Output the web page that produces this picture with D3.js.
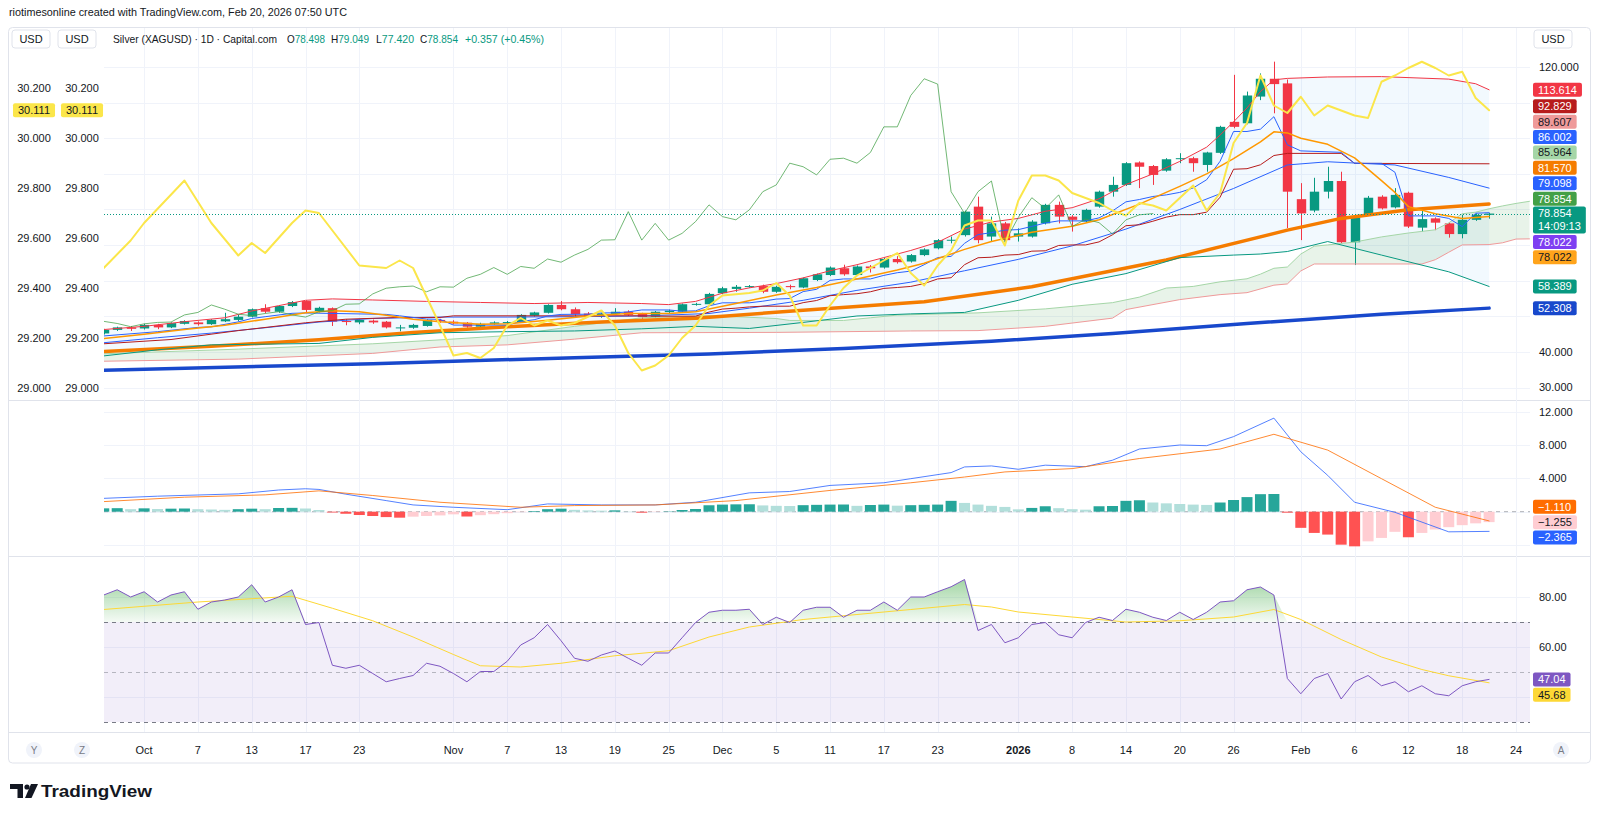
<!DOCTYPE html>
<html>
<head>
<meta charset="utf-8">
<title>Silver (XAGUSD) 1D</title>
<script src="https://cdn.jsdelivr.net/npm/d3@7"></script>
<style>
  html, body { margin: 0; padding: 0; background: #fff; }
  svg { display: block; font-family: 'Liberation Sans', Arial, sans-serif; }
</style>
</head>
<body>
<svg id="chart" width="1600" height="817"></svg>
<script>
// ---- Data ----

// Trading days shown (weekends and Dec 25 / Jan 1 have no bar).
const dates = [
  '2025-09-26', '2025-09-29', '2025-09-30',
  '2025-10-01', '2025-10-02', '2025-10-03', '2025-10-06', '2025-10-07', '2025-10-08', '2025-10-09', '2025-10-10',
  '2025-10-13', '2025-10-14', '2025-10-15', '2025-10-16', '2025-10-17', '2025-10-20', '2025-10-21', '2025-10-22',
  '2025-10-23', '2025-10-24', '2025-10-27', '2025-10-28', '2025-10-29', '2025-10-30', '2025-10-31',
  '2025-11-03', '2025-11-04', '2025-11-05', '2025-11-06', '2025-11-07', '2025-11-10', '2025-11-11', '2025-11-12',
  '2025-11-13', '2025-11-14', '2025-11-17', '2025-11-18', '2025-11-19', '2025-11-20', '2025-11-21', '2025-11-24',
  '2025-11-25', '2025-11-26', '2025-11-27', '2025-11-28',
  '2025-12-01', '2025-12-02', '2025-12-03', '2025-12-04', '2025-12-05', '2025-12-08', '2025-12-09', '2025-12-10',
  '2025-12-11', '2025-12-12', '2025-12-15', '2025-12-16', '2025-12-17', '2025-12-18', '2025-12-19', '2025-12-22',
  '2025-12-23', '2025-12-24', '2025-12-26', '2025-12-29', '2025-12-30', '2025-12-31',
  '2026-01-02', '2026-01-05', '2026-01-06', '2026-01-07', '2026-01-08', '2026-01-09', '2026-01-12', '2026-01-13',
  '2026-01-14', '2026-01-15', '2026-01-16', '2026-01-19', '2026-01-20', '2026-01-21', '2026-01-22', '2026-01-23',
  '2026-01-26', '2026-01-27', '2026-01-28', '2026-01-29', '2026-01-30',
  '2026-02-02', '2026-02-03', '2026-02-04', '2026-02-05', '2026-02-06', '2026-02-09', '2026-02-10', '2026-02-11',
  '2026-02-12', '2026-02-13', '2026-02-16', '2026-02-17', '2026-02-18', '2026-02-19', '2026-02-20'
];
const futureDates = ['2026-02-23', '2026-02-24', '2026-02-25'];

const open = [
  45.2, 46.2, 46.9, 46.6, 47.6, 46.9, 47.9, 48.3, 47.8, 48.6,
  49.0, 49.9, 52.3, 51.3, 52.9, 54.3, 51.5, 52.3, 48.7, 48.3,
  48.8, 48.5, 46.8, 46.8, 47.3, 49.0, 48.5, 48.2, 47.1, 47.9,
  48.1, 48.4, 50.2, 51.0, 53.2, 52.0, 50.8, 50.2, 50.7, 51.3,
  50.7, 49.9, 51.2, 51.3, 53.4, 53.4, 56.5, 57.7, 58.4, 58.5,
  56.9, 58.5, 58.1, 60.2, 61.6, 63.5, 61.6, 64.0, 63.7, 66.1,
  65.4, 67.2, 69.1, 71.4, 72.8, 80.8, 72.4, 76.1, 72.4, 72.4,
  76.1, 81.3, 78.0, 76.6, 80.8, 85.0, 86.9, 93.2, 92.2, 90.9,
  94.2, 94.4, 92.5, 95.9, 104.6, 104.2, 111.7, 116.7, 115.4, 82.9,
  79.7, 85.0, 88.0, 70.8, 78.7, 83.6, 80.6, 84.7, 74.9, 77.5,
  76.1, 73.1, 77.1, 78.498
];
const high = [
  46.5, 47.1, 47.3, 47.9, 47.9, 48.3, 48.9, 48.6, 49.2, 51.0,
  50.4, 52.2, 53.4, 53.1, 54.3, 54.5, 52.7, 52.5, 49.2, 49.2,
  49.1, 48.7, 47.6, 47.9, 49.2, 49.3, 48.9, 48.4, 48.2, 48.6,
  48.7, 50.6, 51.3, 53.4, 54.3, 52.5, 51.2, 51.0, 52.3, 51.7,
  51.0, 51.5, 51.9, 53.6, 53.8, 56.6, 58.3, 58.8, 58.8, 58.9,
  58.6, 58.9, 60.9, 62.0, 64.0, 64.5, 64.3, 64.4, 66.4, 66.9,
  67.5, 69.1, 71.7, 72.4, 79.7, 83.6, 78.0, 76.5, 74.7, 77.0,
  81.6, 82.2, 78.4, 80.2, 85.3, 89.2, 93.3, 93.5, 92.5, 94.4,
  95.8, 94.8, 96.2, 103.5, 117.8, 113.1, 118.2, 121.5, 116.5, 87.4,
  88.9, 92.0, 90.6, 78.3, 83.8, 84.0, 86.0, 85.0, 79.9, 77.8,
  76.4, 78.5, 78.9, 79.049
];
const low = [
  44.9, 45.9, 45.9, 46.3, 46.4, 46.7, 47.7, 47.4, 47.6, 48.4,
  48.6, 49.7, 50.9, 51.0, 52.6, 51.0, 51.1, 47.3, 47.5, 47.8,
  47.9, 46.6, 45.8, 46.5, 47.1, 48.2, 47.7, 46.8, 46.9, 47.6,
  47.7, 48.2, 49.9, 50.8, 51.7, 49.8, 49.9, 49.6, 50.4, 50.1,
  49.3, 49.6, 50.8, 51.1, 53.0, 53.2, 56.2, 56.9, 58.0, 56.5,
  56.6, 57.6, 57.9, 59.9, 61.3, 61.4, 61.3, 62.3, 63.4, 64.8,
  65.1, 66.9, 68.8, 70.5, 72.4, 70.5, 71.0, 70.0, 71.0, 72.1,
  75.8, 76.1, 73.8, 76.3, 80.5, 83.6, 86.6, 86.0, 86.9, 90.6,
  93.0, 90.6, 90.6, 95.6, 102.8, 103.9, 110.7, 107.0, 74.8, 71.4,
  79.2, 83.1, 70.6, 64.4, 78.3, 80.0, 80.3, 74.8, 73.8, 74.2,
  72.1, 71.9, 76.8, 77.42
];
const close = [
  46.2, 46.9, 46.5, 47.6, 46.9, 48.1, 48.7, 47.8, 49.0, 49.2,
  49.9, 52.0, 51.3, 52.9, 54.0, 51.8, 52.4, 48.5, 48.4, 49.0,
  48.3, 46.9, 46.9, 47.6, 49.0, 48.6, 48.0, 47.1, 47.9, 48.3,
  48.4, 50.4, 51.1, 53.2, 52.0, 50.6, 50.2, 50.8, 51.3, 50.4,
  49.8, 51.3, 51.6, 53.4, 53.5, 56.3, 57.9, 58.3, 58.5, 56.9,
  58.3, 58.2, 60.7, 61.8, 63.7, 61.8, 64.0, 63.5, 66.1, 65.2,
  67.2, 68.8, 71.4, 71.5, 79.4, 71.4, 76.1, 71.4, 73.3, 76.6,
  81.3, 78.0, 77.1, 79.9, 85.0, 86.9, 93.0, 92.0, 89.7, 94.1,
  94.4, 93.0, 96.0, 103.2, 103.2, 112.0, 116.7, 115.2, 85.0, 78.9,
  85.0, 88.0, 70.8, 77.8, 83.3, 80.3, 84.1, 75.2, 77.3, 76.3,
  73.1, 77.1, 78.5, 78.854
];

// Overlay lines as [bar index, value] points.
const sma200 = [[0, 34.9], [20, 36.7], [35, 38.4], [45, 39.4], [55, 41.0], [66, 43.0], [75, 45.2], [85, 48.0], [95, 50.6], [103, 52.31]];
const ema50 = [[0, 40.1], [8, 41.6], [16, 43.4], [23, 45.5], [30, 47.1], [37, 48.4], [44, 49.5], [52, 51.7], [61, 54.1],
  [69, 58.3], [79, 65.8], [88, 74.2], [92, 77.5], [97, 79.9], [103, 81.57]];
const ma10 = [[0, 43.8], [3, 45.0], [6, 46.3], [9, 47.5], [12, 49.2], [15, 51.0], [17, 51.6], [19, 51.3], [21, 50.3],
  [23, 49.2], [25, 48.5], [28, 47.8], [30, 47.9], [33, 48.9], [36, 50.1], [39, 50.8], [42, 50.8], [44, 51.3], [47, 53.6],
  [50, 56.0], [53, 58.1], [56, 60.5], [59, 63.0], [61, 64.9], [64, 68.8], [66, 71.0], [69, 73.6], [72, 75.3], [74, 77.1],
  [77, 81.5], [80, 86.5], [82, 90.0], [84, 94.3], [86, 99.0], [87, 101.8], [88, 101.5], [89, 100.0], [91, 98.3],
  [93, 94.5], [95, 88.1], [96, 84.8], [97, 80.8], [99, 78.8], [101, 77.5], [103, 78.02]];

const bbUpper = [[0, 46.3], [3, 47.2], [6, 48.5], [9, 49.6], [11, 51.5], [13, 53.0], [15, 54.5], [17, 54.9], [20, 54.6],
  [24, 54.2], [28, 53.9], [32, 53.6], [36, 53.9], [40, 53.6], [42, 53.3], [44, 54.2], [46, 56.5], [48, 58.0], [50, 59.2],
  [52, 60.8], [54, 62.8], [56, 64.5], [58, 66.5], [60, 68.5], [62, 70.8], [64, 74.5], [66, 76.5], [68, 77.5], [70, 79.5],
  [72, 80.5], [74, 83.0], [76, 87.0], [78, 90.0], [80, 93.5], [82, 97.5], [83, 100.9], [84, 104.6], [85, 108.5],
  [86, 113.1], [87, 116.4], [88, 116.8], [91, 117.2], [95, 117.3], [100, 116.6], [102, 115.3], [103, 113.61]];
const bbBasis = [[0, 42.6], [4, 44.0], [8, 45.3], [12, 46.8], [16, 48.4], [20, 49.4], [25, 49.8], [30, 49.8], [35, 49.9],
  [40, 50.1], [45, 50.8], [48, 52.3], [52, 54.5], [56, 57.3], [60, 59.6], [64, 62.8], [68, 66.0], [72, 69.8], [76, 74.5],
  [80, 80.0], [84, 85.9], [88, 92.5], [91, 93.4], [96, 92.5], [100, 89.0], [103, 86.0]];
const bbLower = [[0, 38.9], [4, 40.6], [8, 42.0], [12, 42.2], [16, 42.4], [20, 44.1], [25, 45.4], [30, 45.7], [35, 45.9],
  [40, 46.5], [44, 47.2], [48, 46.6], [52, 48.3], [56, 50.1], [60, 50.7], [64, 51.1], [68, 54.5], [72, 59.0], [76, 62.0],
  [80, 66.5], [84, 67.2], [86, 67.5], [88, 68.2], [91, 71.0], [95, 67.2], [100, 62.5], [103, 58.39]];

// Ichimoku
const tenkan = [[0, 44.5], [4, 45.7], [7, 46.9], [8, 47.05], [10, 48.45], [11, 49.4], [12, 49.9], [14, 50.85], [15, 50.95],
  [21, 50.55], [22, 50.15], [24, 49.25], [25, 49.15], [26, 47.55], [30, 47.55], [31, 48.55], [32, 49.05], [33, 50.1],
  [34, 50.55], [36, 50.6], [37, 50.95], [38, 51.0], [39, 51.25], [40, 51.8], [42, 51.8], [43, 51.45], [44, 51.55],
  [45, 52.95], [46, 53.8], [48, 53.8], [49, 54.25], [50, 54.85], [51, 55.0], [52, 56.95], [53, 57.6], [54, 60.1],
  [55, 60.5], [57, 60.5], [58, 61.5], [59, 62.25], [60, 62.7], [61, 64.5], [62, 66.5], [63, 66.85], [64, 70.5],
  [65, 72.95], [66, 73.5], [67, 74.2], [68, 74.35], [69, 75.25], [70, 76.2], [71, 76.8], [73, 76.8], [74, 77.65],
  [75, 79.6], [76, 82.15], [77, 82.8], [78, 83.65], [79, 84.1], [80, 84.8], [81, 86.05], [82, 88.35], [83, 93.55],
  [84, 101.9], [85, 101.9], [86, 102.55], [87, 106.05], [88, 98.15], [89, 96.45], [92, 96.05], [93, 92.95], [95, 92.95],
  [96, 90.45], [97, 78.2], [99, 78.2], [100, 77.5], [101, 75.2], [102, 78.95], [103, 79.1]];
const kijun = [[0, 42.3], [5, 43.5], [10, 46.0], [15, 48.2], [18, 49.2], [22, 49.7], [25, 49.7], [26, 50.15], [40, 50.15],
  [41, 50.05], [44, 50.05], [45, 51.2], [46, 52.05], [47, 52.3], [48, 52.65], [49, 52.85], [51, 52.85], [52, 53.85],
  [53, 54.45], [54, 55.8], [55, 56.1], [56, 56.35], [57, 56.9], [58, 57.85], [59, 58.1], [60, 58.4], [61, 59.2],
  [62, 60.5], [63, 60.85], [64, 64.5], [65, 66.45], [66, 66.6], [67, 67.2], [68, 67.35], [69, 68.3], [70, 68.4],
  [71, 69.9], [72, 70.05], [73, 70.05], [74, 70.9], [75, 72.9], [76, 75.45], [77, 75.7], [78, 76.7], [79, 77.85],
  [80, 78.55], [81, 78.55], [82, 79.25], [83, 83.45], [84, 91.3], [85, 91.45], [86, 92.55], [87, 95.15], [88, 95.75],
  [92, 95.75], [93, 92.95], [103, 92.83]];
// Leading spans, indexed at their plotted (shifted) position.
const spanA = [[0, 39.5], [10, 40.8], [20, 42.3], [25, 43.4], [30, 44.6], [35, 47.2], [40, 49.6], [45, 50.2], [47, 49.9],
  [50, 49.4], [51, 48.85], [55, 48.85], [57, 49.6], [59, 50.35], [65, 50.98], [70, 52.1], [75, 53.85], [77, 55.4],
  [79, 57.95], [81, 58.4], [83, 59.7], [85, 60.55], [86, 61.85], [87, 63.5], [88, 63.85], [89, 67.5], [90, 69.7],
  [91, 70.05], [93, 70.85], [95, 72.3], [97, 73.4], [99, 74.3], [100, 76.25], [101, 78.8], [102, 79.25], [103, 80.2],
  [104, 81.0], [105, 81.7], [106, 82.3]];
const spanB = [[0, 37.4], [10, 38.0], [20, 39.6], [25, 41.4], [30, 42.0], [35, 43.6], [40, 45.4], [50, 45.5], [60, 45.9],
  [65, 46.0], [70, 47.2], [75, 49.5], [76, 51.9], [80, 54.7], [83, 56.1], [85, 56.65], [87, 58.75], [88, 59.1],
  [89, 62.75], [90, 64.7], [98, 64.7], [99, 65.9], [100, 68.0], [101, 70.05], [103, 70.15], [104, 70.65], [105, 71.7],
  [106, 71.75]];
const laggingShift = 25;

// Yellow comparison line on the left scale.
const compareLine = [[0, 29.48], [2, 29.59], [3, 29.66], [6, 29.83], [8, 29.66], [10, 29.53], [11, 29.58], [12, 29.54],
  [14, 29.66], [15, 29.71], [16, 29.70], [17, 29.63], [19, 29.49], [21, 29.48], [22, 29.51], [23, 29.48], [25, 29.25],
  [26, 29.13], [27, 29.14], [28, 29.12], [29, 29.16], [30, 29.25], [31, 29.28], [32, 29.25], [33, 29.27], [34, 29.25],
  [35, 29.26], [37, 29.31], [38, 29.25], [39, 29.14], [40, 29.07], [41, 29.09], [42, 29.13], [43, 29.20], [44, 29.25],
  [45, 29.33], [46, 29.37], [48, 29.38], [49, 29.39], [50, 29.42], [51, 29.37], [52, 29.25], [53, 29.25], [54, 29.33],
  [55, 29.40], [56, 29.45], [57, 29.48], [58, 29.51], [59, 29.54], [60, 29.46], [61, 29.41], [62, 29.49], [63, 29.55],
  [64, 29.65], [65, 29.67], [66, 29.67], [67, 29.57], [68, 29.75], [69, 29.85], [70, 29.85], [71, 29.83], [72, 29.78],
  [73, 29.76], [74, 29.74], [75, 29.71], [76, 29.69], [77, 29.74], [78, 29.73], [79, 29.71], [80, 29.76], [81, 29.81],
  [82, 29.71], [83, 29.78], [84, 29.98], [85, 30.06], [86, 30.25], [87, 30.13], [88, 30.10], [89, 30.165], [90, 30.09],
  [91, 30.13], [92, 30.11], [93, 30.09], [94, 30.08], [95, 30.225], [96, 30.25], [97, 30.28], [98, 30.305], [99, 30.28],
  [100, 30.25], [101, 30.265], [102, 30.16], [103, 30.111]];

// MACD pane
const macdLine = [[0, 1.6], [4, 1.86], [7, 2.0], [10, 2.14], [13, 2.6], [15, 2.75], [16, 2.67], [18, 2.1], [21, 1.33],
  [23, 0.81], [26, 0.53], [30, 0.24], [33, 0.93], [37, 0.81], [41, 0.81], [44, 1.13], [48, 2.26], [51, 2.42], [54, 3.15],
  [58, 3.47], [60, 3.96], [63, 4.69], [64, 5.37], [66, 5.49], [68, 5.09], [70, 5.58], [73, 5.4], [75, 6.18], [77, 7.52],
  [80, 8.0], [82, 7.92], [84, 9.01], [87, 11.23], [89, 7.19], [91, 4.36], [93, 1.13], [96, -0.08], [100, -2.42],
  [103, -2.365]];
const signalLine = [[0, 1.21], [6, 1.74], [12, 2.02], [16, 2.5], [20, 1.94], [25, 1.13], [31, 0.53], [35, 0.73], [41, 0.81],
  [47, 1.33], [54, 2.55], [60, 3.47], [64, 4.16], [67, 4.77], [72, 5.17], [77, 6.38], [83, 7.52], [87, 9.29], [91, 7.39],
  [95, 3.96], [99, 0.53], [103, -1.11]];
const macdHist = [
  0.40, 0.42, 0.30, 0.40, 0.32, 0.36, 0.38, 0.30, 0.26, 0.22,
  0.30, 0.36, 0.30, 0.44, 0.46, 0.38, 0.20, -0.10, -0.25, -0.40,
  -0.52, -0.65, -0.72, -0.60, -0.52, -0.45, -0.32, -0.58, -0.42, -0.30,
  -0.18, -0.06, 0.08, 0.30, 0.36, 0.22, 0.15, 0.12, 0.16, 0.04,
  -0.12, -0.04, 0.04, 0.20, 0.32, 0.77, 0.85, 0.88, 0.89, 0.75,
  0.70, 0.68, 0.78, 0.82, 0.85, 0.86, 0.70, 0.80, 0.85, 0.72,
  0.78, 0.82, 0.85, 1.30, 1.05, 0.85, 0.70, 0.57, 0.28, 0.45,
  0.65, 0.42, 0.30, 0.24, 0.65, 0.68, 1.30, 1.37, 1.10, 1.00,
  0.92, 0.85, 0.81, 1.10, 1.40, 1.75, 2.10, 2.12, -0.12, -1.94,
  -2.55, -2.75, -3.96, -4.16, -3.56, -3.15, -2.42, -3.07, -2.55, -2.14,
  -1.86, -1.62, -1.40, -1.255
];

// RSI pane
const rsi = [
  80.8, 82.9, 80.0, 82.1, 78.0, 80.8, 82.1, 75.1, 78.0, 78.8,
  80.0, 84.9, 78.0, 80.0, 82.9, 69.0, 69.8, 52.7, 51.5, 52.7,
  49.4, 46.1, 47.4, 48.6, 53.5, 52.3, 49.4, 46.1, 50.2, 50.2,
  54.3, 60.8, 63.7, 69.0, 62.5, 55.5, 54.3, 56.8, 58.4, 55.5,
  52.7, 57.6, 57.6, 63.7, 69.8, 73.9, 74.7, 74.7, 75.1, 69.0,
  71.9, 69.8, 74.7, 75.9, 75.9, 71.9, 74.7, 74.7, 78.0, 74.7,
  80.0, 80.0, 82.1, 84.1, 87.0, 66.6, 69.0, 61.7, 63.7, 69.0,
  69.8, 64.9, 63.7, 69.8, 71.9, 70.6, 75.1, 73.9, 71.9, 70.6,
  73.9, 71.0, 73.9, 78.0, 78.5, 82.9, 84.0, 80.8, 47.4, 41.3,
  47.4, 49.4, 39.2, 46.1, 48.6, 44.5, 46.1, 42.1, 44.5, 41.3,
  40.5, 44.5, 46.1, 47.04
];
const rsiMa = [[0, 75.0], [7, 78.0], [14, 80.3], [17, 75.5], [20, 70.5], [23, 64.0], [26, 57.0], [28, 52.5], [31, 52.0],
  [34, 53.5], [38, 56.5], [42, 58.5], [45, 64.0], [48, 68.0], [52, 71.0], [56, 73.0], [60, 75.0], [64, 77.0], [66, 76.0],
  [68, 74.0], [72, 72.0], [76, 70.0], [80, 70.5], [84, 72.0], [87, 75.0], [89, 71.0], [92, 63.0], [95, 56.0], [98, 51.0],
  [100, 48.5], [103, 45.68]];

// Axis ticks and labels
const priceTicks = [120, 110, 100, 90, 80, 70, 60, 50, 40, 30];
const leftTicks = [30.2, 30.0, 29.8, 29.6, 29.4, 29.2, 29.0];
const macdTicks = [12, 8, 4, 0, -4];
const rsiTicks = [80, 60, 40];
const timeLabels = [
  ['2025-10-01', 'Oct'], ['2025-10-07', '7'], ['2025-10-13', '13'], ['2025-10-17', '17'], ['2025-10-23', '23'],
  ['2025-11-03', 'Nov'], ['2025-11-07', '7'], ['2025-11-13', '13'], ['2025-11-19', '19'], ['2025-11-25', '25'],
  ['2025-12-01', 'Dec'], ['2025-12-05', '5'], ['2025-12-11', '11'], ['2025-12-17', '17'], ['2025-12-23', '23'],
  ['2026-01-02', '2026'], ['2026-01-08', '8'], ['2026-01-14', '14'], ['2026-01-20', '20'], ['2026-01-26', '26'],
  ['2026-02-02', 'Feb'], ['2026-02-06', '6'], ['2026-02-12', '12'], ['2026-02-18', '18'], ['2026-02-24', '24']
];

// Last values shown on the scales
const lastValues = {
  bbUpper: 113.614, kijun: 92.829, spanB: 89.607, bbBasis: 86.002, spanA: 85.964, ema50: 81.570,
  tenkan: 79.098, lagging: 78.854, close: 78.854, purple: 78.022, ma10: 78.022, bbLower: 58.389, sma200: 52.308,
  macd: -2.365, signal: -1.110, hist: -1.255, rsi: 47.04, rsiMa: 45.68, compare: 30.111
};
const countdown = '14:09:13';
const symbolTitle = 'Silver (XAGUSD) · 1D · Capital.com';
const changeText = '+0.357 (+0.45%)';

// ---- Styles ----
const UP = '#089981';
const DOWN = '#F23645';
const TEXT = '#131722';
const GRID = '#f0f3fa';
const BORDER = '#e0e3eb';
const style = {
  bbUpper: {color: '#F23645', width: 1},
  bbBasis: {color: '#2962FF', width: 1},
  bbLower: {color: '#089981', width: 1},
  tenkan: {color: '#2962FF', width: 1},
  kijun: {color: '#B71C1C', width: 1},
  lagging: {color: '#43A047', width: 1, opacity: 0.75},
  spanA: {color: '#A5D6A7', width: 1},
  spanB: {color: '#EF9A9A', width: 1},
  ema50: {color: '#F57C00', width: 3.5},
  ma10: {color: '#FF9800', width: 1.5},
  purple: {color: '#7E3FF2', width: 1},
  sma200: {color: '#1848CC', width: 3.5},
  compare: {color: '#FBE64A', width: 2},
  close: {color: '#089981'},
  macd: {color: '#2962FF', width: 1, opacity: 0.8},
  signal: {color: '#FF6D00', width: 1, opacity: 0.8},
  hist: {color: '#FFCDD2'},
  rsi: {color: '#7E57C2', width: 1},
  rsiMa: {color: '#FDD835', width: 1}
};
const darkText = new Set(['spanB', 'spanA', 'ma10', 'hist', 'rsiMa', 'compare']);
const labelFill = Object.assign({}, Object.fromEntries(Object.entries(style).map(([k, s]) => [k, s.color])),
  {ma10: '#FFA41B'});

// ---- Layout ----
const PLOT_LEFT = 104;
const PLOT_RIGHT = 1530;
const MAIN = {top: 28, bottom: 400};
const MACD = {top: 401, bottom: 556};
const RSI = {top: 557, bottom: 732};
const AXIS_BOTTOM = 763;
const LABEL_X = 1533;
const LABEL_H = 14;
const LABEL_GAP = 1.4;

const allDates = dates.concat(futureDates);
const dateIndex = d => allDates.indexOf(d);

const x = d3.scaleLinear().domain([0, 103]).range([103.75, 1489.1]);
const yPrice = d3.scaleLinear().domain([30, 120]).range([387.6, 67]);
const yLeft = d3.scaleLinear().domain([29, 30.2]).range([388, 88]);
const yMacd = d3.scaleLinear().domain([-4, 12]).range([545, 411.7]);
const yRsi = d3.scaleLinear().domain([30, 80]).range([722, 597]);

const fmt3 = d3.format('.3f');
const fmt2 = d3.format('.2f');

const svg = d3.select('#chart');
svg.append('rect').attr('width', 1600).attr('height', 817).attr('fill', '#fff');

const defs = svg.append('defs');
function clip(id, pane) {
  defs.append('clipPath').attr('id', id).append('rect')
    .attr('x', PLOT_LEFT).attr('y', pane.top)
    .attr('width', PLOT_RIGHT - PLOT_LEFT).attr('height', pane.bottom - pane.top);
}
clip('clipMain', MAIN);
clip('clipMacd', MACD);
clip('clipRsi', RSI);

const grad = defs.append('linearGradient').attr('id', 'obFill')
  .attr('gradientUnits', 'userSpaceOnUse')
  .attr('x1', 0).attr('x2', 0).attr('y1', yRsi(90)).attr('y2', yRsi(70));
grad.append('stop').attr('offset', 0).attr('stop-color', 'rgba(76,175,80,0.6)');
grad.append('stop').attr('offset', 1).attr('stop-color', 'rgba(76,175,80,0.06)');

// Frame and pane separators
svg.append('rect').attr('x', 8.5).attr('y', 27.5).attr('width', 1582).attr('height', AXIS_BOTTOM - 27.5)
  .attr('rx', 4).attr('fill', 'none').attr('stroke', BORDER);
[MAIN.bottom + 0.5, MACD.bottom + 0.5, RSI.bottom + 0.5].forEach(y => {
  svg.append('line').attr('x1', 9).attr('x2', 1590).attr('y1', y).attr('y2', y).attr('stroke', BORDER);
});

// Grid
const grid = svg.append('g');
timeLabels.forEach(([d]) => {
  const gx = Math.round(x(dateIndex(d))) + 0.5;
  grid.append('line').attr('x1', gx).attr('x2', gx).attr('y1', MAIN.top).attr('y2', RSI.bottom).attr('stroke', GRID);
});
[[priceTicks, yPrice], [macdTicks, yMacd], [rsiTicks, yRsi]].forEach(([ticks, sc]) => {
  ticks.forEach(v => {
    const gy = Math.round(sc(v)) + 0.5;
    grid.append('line').attr('x1', PLOT_LEFT).attr('x2', PLOT_RIGHT).attr('y1', gy).attr('y2', gy).attr('stroke', GRID);
  });
});

// ---- Main pane ----
const main = svg.append('g').attr('clip-path', 'url(#clipMain)');
const priceLine = d3.line().x(d => x(d[0])).y(d => yPrice(d[1]));

function band(upper, lower, fill) {
  const d = priceLine(upper) + 'L' + priceLine(lower.slice().reverse()).slice(1) + 'Z';
  main.append('path').attr('d', d).attr('fill', fill).attr('stroke', 'none');
}
band(bbUpper, bbLower, 'rgba(33,150,243,0.06)');
band(spanA, spanB, 'rgba(67,160,71,0.12)');

// Candles
const bars = dates.map((d, i) => ({i, o: open[i], h: high[i], l: low[i], c: close[i]}));
const BODY = 9.4;
const candles = main.append('g').selectAll('g').data(bars).join('g');
candles.append('line')
  .attr('x1', d => Math.round(x(d.i)) + 0.5).attr('x2', d => Math.round(x(d.i)) + 0.5)
  .attr('y1', d => yPrice(d.h)).attr('y2', d => yPrice(d.l))
  .attr('stroke', d => d.c >= d.o ? UP : DOWN);
candles.append('rect')
  .attr('x', d => Math.round(x(d.i)) + 0.5 - BODY / 2).attr('width', BODY)
  .attr('y', d => yPrice(Math.max(d.o, d.c)))
  .attr('height', d => Math.max(1, Math.abs(yPrice(d.o) - yPrice(d.c))))
  .attr('fill', d => d.c >= d.o ? UP : DOWN);

function drawLine(g, data, line, s) {
  g.append('path').datum(data).attr('d', line).attr('fill', 'none')
    .attr('stroke', s.color).attr('stroke-width', s.width).attr('stroke-opacity', s.opacity || 1)
    .attr('stroke-linejoin', 'round').attr('stroke-linecap', 'round');
}
drawLine(main, spanB, priceLine, style.spanB);
drawLine(main, spanA, priceLine, style.spanA);
drawLine(main, sma200, priceLine, style.sma200);
drawLine(main, ema50, priceLine, style.ema50);
drawLine(main, bbLower, priceLine, style.bbLower);
drawLine(main, bbUpper, priceLine, style.bbUpper);
drawLine(main, bbBasis, priceLine, style.bbBasis);
drawLine(main, kijun, priceLine, style.kijun);
drawLine(main, tenkan, priceLine, style.tenkan);
drawLine(main, ma10, priceLine, style.ma10);
drawLine(main, close.slice(laggingShift).map((c, j) => [j, c]), priceLine, style.lagging);
drawLine(main, compareLine, d3.line().x(d => x(d[0])).y(d => yLeft(d[1])), style.compare);

// Last price line
const yClose = Math.round(yPrice(lastValues.close)) + 0.5;
main.append('line').attr('x1', PLOT_LEFT).attr('x2', PLOT_RIGHT).attr('y1', yClose).attr('y2', yClose)
  .attr('stroke', UP).attr('stroke-dasharray', '1,2');

// ---- MACD pane ----
const macdG = svg.append('g').attr('clip-path', 'url(#clipMacd)');
const y0 = yMacd(0);
macdG.append('line').attr('x1', PLOT_LEFT).attr('x2', PLOT_RIGHT).attr('y1', y0).attr('y2', y0)
  .attr('stroke', 'rgba(120,123,134,0.6)').attr('stroke-dasharray', '4,4');
macdG.append('g').selectAll('rect').data(macdHist).join('rect')
  .attr('x', (v, i) => x(i) - 5.5).attr('width', 11)
  .attr('y', v => Math.min(yMacd(v), y0)).attr('height', v => Math.abs(yMacd(v) - y0))
  .attr('fill', (v, i) => {
    const prev = i > 0 ? macdHist[i - 1] : 0;
    if (v >= 0) return v >= prev ? '#26A69A' : '#B2DFDB';
    return v <= prev ? '#FF5252' : '#FFCDD2';
  });
const macdPath = d3.line().x(d => x(d[0])).y(d => yMacd(d[1]));
drawLine(macdG, macdLine, macdPath, style.macd);
drawLine(macdG, signalLine, macdPath, style.signal);

// ---- RSI pane ----
const rsiG = svg.append('g').attr('clip-path', 'url(#clipRsi)');
rsiG.append('rect').attr('x', PLOT_LEFT).attr('width', PLOT_RIGHT - PLOT_LEFT)
  .attr('y', yRsi(70)).attr('height', yRsi(30) - yRsi(70)).attr('fill', 'rgba(126,87,194,0.1)');
[[70, '#787B86'], [50, 'rgba(120,123,134,0.5)'], [30, '#787B86']].forEach(([lv, c]) => {
  const ly = Math.round(yRsi(lv)) + 0.5;
  rsiG.append('line').attr('x1', PLOT_LEFT).attr('x2', PLOT_RIGHT).attr('y1', ly).attr('y2', ly)
    .attr('stroke', c).attr('stroke-dasharray', '4,4');
});
rsiG.append('path').datum(rsi)
  .attr('d', d3.area().x((v, i) => x(i)).y0(yRsi(70)).y1(v => yRsi(Math.max(v, 70))))
  .attr('fill', 'url(#obFill)');
drawLine(rsiG, rsiMa, d3.line().x(d => x(d[0])).y(d => yRsi(d[1])), style.rsiMa);
drawLine(rsiG, rsi, d3.line().x((v, i) => x(i)).y(v => yRsi(v)), style.rsi);

// ---- Scale labels (stacked away from an anchor label) ----
function stack(items, anchorTop, anchorBottom) {
  const above = items.filter(d => d.above).sort((a, b) => b.y - a.y);
  let edge = anchorTop;
  above.forEach(d => { d.cy = Math.min(d.y, edge - LABEL_GAP - LABEL_H / 2); edge = d.cy - LABEL_H / 2; });
  const below = items.filter(d => !d.above).sort((a, b) => a.y - b.y);
  edge = anchorBottom;
  below.forEach(d => { d.cy = Math.max(d.y, edge + LABEL_GAP + LABEL_H / 2); edge = d.cy + LABEL_H / 2; });
}

const priceKeys = ['bbUpper', 'kijun', 'spanB', 'bbBasis', 'spanA', 'ema50', 'tenkan', 'lagging', 'purple', 'ma10',
  'bbLower', 'sma200'];
const yc = yPrice(lastValues.close);
const priceItems = priceKeys.map(k => ({
  key: k, text: fmt3(lastValues[k]), y: yPrice(lastValues[k]), above: lastValues[k] >= lastValues.close
}));
stack(priceItems, yc - 6.5, yc + 20);
priceItems.push({key: 'close', lines: [fmt3(lastValues.close), countdown], cy: yc});

const yh = yMacd(lastValues.hist);
const macdItems = ['signal', 'macd'].map(k => ({
  key: k, text: fmt3(lastValues[k]), y: yMacd(lastValues[k]), above: lastValues[k] > lastValues.hist
}));
stack(macdItems, yh - LABEL_H / 2, yh + LABEL_H / 2);
macdItems.push({key: 'hist', text: fmt3(lastValues.hist), cy: yh});

const yr = yRsi(lastValues.rsi);
const rsiItems = [{key: 'rsiMa', text: fmt2(lastValues.rsiMa), y: yRsi(lastValues.rsiMa), above: false}];
stack(rsiItems, yr - LABEL_H / 2, yr + LABEL_H / 2);
rsiItems.push({key: 'rsi', text: fmt2(lastValues.rsi), cy: yr});

const rightLabels = priceItems.concat(macdItems, rsiItems);
// Vertical spans taken by labels, so covered tick texts are left out.
const taken = rightLabels.map(d => [d.cy - LABEL_H / 2, d.cy - LABEL_H / 2 + LABEL_H + ((d.lines || [1]).length - 1) * 13]);
const isFree = ty => taken.every(([t, b]) => ty + 5 < t - 1 || ty - 5 > b + 1);

// ---- Axes ----
const axisText = (g, tx, ty, t, anchor) => g.append('text').attr('x', tx).attr('y', ty)
  .attr('dy', '0.35em').attr('font-size', 11).attr('fill', TEXT).attr('text-anchor', anchor || 'start').text(t);

const axes = svg.append('g');
priceTicks.filter(v => isFree(yPrice(v))).forEach(v => axisText(axes, 1539, yPrice(v), fmt3(v)));
macdTicks.filter(v => isFree(yMacd(v))).forEach(v => axisText(axes, 1539, yMacd(v), fmt3(v)));
rsiTicks.filter(v => isFree(yRsi(v))).forEach(v => axisText(axes, 1539, yRsi(v), fmt2(v)));
leftTicks.forEach(v => {
  axisText(axes, 34, yLeft(v), fmt3(v), 'middle');
  axisText(axes, 82, yLeft(v), fmt3(v), 'middle');
});
timeLabels.forEach(([d, t]) => {
  axisText(axes, x(dateIndex(d)), 750, t, 'middle').attr('font-weight', t === '2026' ? 'bold' : null);
});

const labelsG = svg.append('g');
function drawLabel(key, cy, lines, xLeft) {
  const g = labelsG.append('g');
  const h = LABEL_H + (lines.length - 1) * 13;
  const rect = g.append('rect').attr('x', xLeft).attr('y', cy - LABEL_H / 2).attr('height', h).attr('rx', 2)
    .attr('fill', labelFill[key]);
  let w = 0;
  lines.forEach((t, k) => {
    const tx = axisText(g, xLeft + 5, cy + k * 13, t).attr('fill', darkText.has(key) ? TEXT : '#fff');
    w = Math.max(w, tx.node().getComputedTextLength());
  });
  rect.attr('width', w + 10);
}
rightLabels.forEach(d => drawLabel(d.key, d.cy, d.lines || [d.text], LABEL_X));

const yCmp = yLeft(lastValues.compare);
drawLabel('compare', yCmp, [fmt3(lastValues.compare)], 13);
drawLabel('compare', yCmp, [fmt3(lastValues.compare)], 61);

// ---- Header, buttons and logo ----
svg.append('text').attr('x', 9).attr('y', 16).attr('font-size', 11).attr('fill', TEXT)
  .attr('textLength', 338).attr('lengthAdjust', 'spacingAndGlyphs')
  .text('riotimesonline created with TradingView.com, Feb 20, 2026 07:50 UTC');

function unitBox(cx, cy) {
  svg.append('rect').attr('x', cx - 19).attr('y', cy - 9).attr('width', 38).attr('height', 18).attr('rx', 3)
    .attr('fill', '#fff').attr('stroke', BORDER);
  axisText(svg, cx, cy, 'USD', 'middle');
}
unitBox(31, 39);
unitBox(77, 39);
unitBox(1553, 39);

// Legend pieces placed where the reference has them
const legendText = (lx, w) => svg.append('text').attr('x', lx).attr('y', 39).attr('dy', '0.35em')
  .attr('font-size', 11).attr('fill', TEXT).attr('textLength', w).attr('lengthAdjust', 'spacingAndGlyphs');
legendText(113, 164).text(symbolTitle);
[['O', open[103], 287], ['H', high[103], 331], ['L', low[103], 376], ['C', close[103], 420]].forEach(([k, v, lx]) => {
  const t = legendText(lx, 38);
  t.append('tspan').text(k);
  t.append('tspan').attr('fill', UP).text(fmt3(v));
});
legendText(465, 79).attr('fill', UP).text(changeText);

[[34, 'Y'], [82, 'Z'], [1561, 'A']].forEach(([bx, t]) => {
  svg.append('circle').attr('cx', bx).attr('cy', 750).attr('r', 8).attr('fill', '#f0f3fa');
  axisText(svg, bx, 750, t, 'middle').attr('font-size', 10).attr('fill', '#787b86');
});

const logo = svg.append('g').attr('fill', TEXT);
logo.append('path').attr('d', 'M10,784 H23 V798 H17.5 V789 H10 Z');
logo.append('circle').attr('cx', 27).attr('cy', 787).attr('r', 2.6);
logo.append('path').attr('d', 'M31,784 H38 L31.5,798 H25 Z');
logo.append('text').attr('x', 41).attr('y', 797).attr('font-size', 17).attr('font-weight', 'bold')
  .attr('textLength', 111).attr('lengthAdjust', 'spacingAndGlyphs').text('TradingView');
</script>
</body>
</html>
